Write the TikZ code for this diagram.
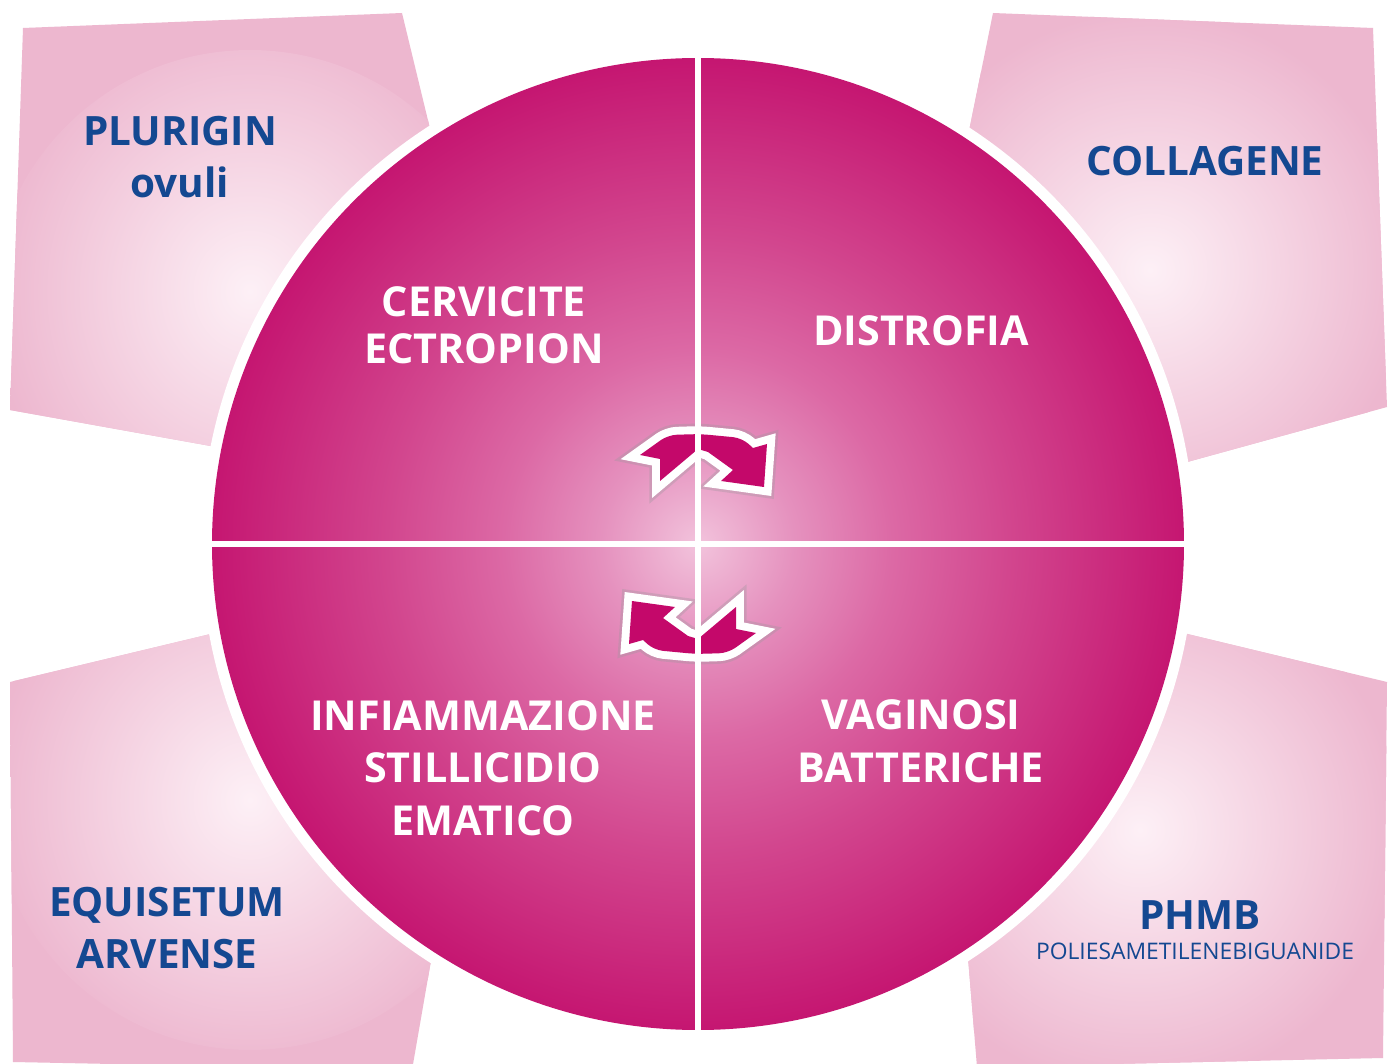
\documentclass[tikz,border=0pt]{standalone}
\usepackage{fontspec}
\setmainfont{Open Sans}
\usepackage{tikz}
\usetikzlibrary{calc}
\definecolor{boxpink}{RGB}{237, 183, 207}
\definecolor{boxlight}{RGB}{253, 240, 246}
\definecolor{discdark}{RGB}{197, 22, 113}
\definecolor{discdeep}{RGB}{210, 70, 142}
\definecolor{discmid}{RGB}{220, 105, 165}
\definecolor{discsoft}{RGB}{229, 145, 190}
\definecolor{disclight}{RGB}{242, 195, 220}
\definecolor{arrowmag}{RGB}{196, 8, 106}
\definecolor{glowgray}{RGB}{160, 150, 158}
\definecolor{remedyblue}{RGB}{20, 72, 145}
\pgfdeclareradialshading{discshade}{\pgfpoint{0bp}{0bp}}{color(0bp)=(disclight); color(5bp)=(discsoft); color(10bp)=(discmid); color(16bp)=(discdeep); color(25bp)=(discdark); color(50bp)=(discdark)}

\begin{document}
\begin{tikzpicture}[x=0.02cm, y=-0.02cm,
    cornerbox/.style={fill=boxpink, path picture={
        \shade[inner color=boxlight, outer color=boxpink] (#1) circle (260);}},
    quadtext/.style={text=white, font=\fontsize{23.5}{30}\selectfont\bfseries,
                     align=center, inner sep=0pt},
    remedy/.style={text=remedyblue, font=\fontsize{23}{30}\selectfont\bfseries,
                   align=center, inner sep=0pt},
    crossline/.style={draw=white, line width=3.5pt},
    arrowpiece/.style={fill=arrowmag,
        preaction={draw=glowgray, line width=12pt, opacity=0.35},
        preaction={draw=white, fill=white, line width=9pt}},
    cyclearrow/.pic={
        \path[arrowpiece] (-58,-89) [rounded corners=5pt] -- (-30,-109) -- (2,-110)
            -- (44,-106) [sharp corners] -- (55,-96) -- (69,-100) -- (66,-57)
            -- (23,-63) -- (35,-74) -- (10,-92) -- (0,-95) -- (-38,-63)
            -- (-38,-85) -- cycle;
    }
]
    \useasboundingbox (0,0) rectangle (1394,1064);
    \fill[white] (0,0) rectangle (1394,1064);

    % corner panels
    \fill[cornerbox={250,310}] (23,28) -- (402,13) -- (440,170) -- (300,462) -- (10,410) -- cycle;
    \fill[cornerbox={1150,270}] (993,13) -- (1373,28) -- (1387,407) -- (1100,486) -- (955,200) -- cycle;
    \fill[cornerbox={250,790}] (10,682) -- (290,615) -- (445,880) -- (412,1070) -- (13,1062) -- cycle;
    \fill[cornerbox={1140,830}] (1387,682) -- (1383,1058) -- (977,1067) -- (960,860) -- (1100,613) -- cycle;

    % disc
    \fill[white] (698,544) circle (497);
    \shade[shading=discshade] (698,544) circle (486);

    \pic at (698,544) {cyclearrow};
    \pic[rotate=180] at (698,544) {cyclearrow};

    \draw[crossline] (698,50) -- (698,1038);
    \draw[crossline] (204,544) -- (1192,544);

    % quadrant labels
    \node[quadtext] (cervicite) at (484,325) {CERVICITE\\[-3.5pt]ECTROPION};
    \node[quadtext] (distrofia) at (921,331) {DISTROFIA};
    \node[quadtext] (infiamm) at (483,768) {INFIAMMAZIONE\\STILLICIDIO\\EMATICO};
    \node[quadtext] (vaginosi) at (921,741) {VAGINOSI\\BATTERICHE};

    % remedies
    \node[remedy] (plurigin) at (180,157) {PLURIGIN\\ovuli};
    \node[remedy] (collagene) at (1205,161) {COLLAGENE};
    \node[remedy] (equisetum) at (167,928) {EQUISETUM\\ARVENSE};
    \node[remedy] (phmb) at (1200,915) {PHMB};
    \node[text=remedyblue, font=\fontsize{13}{15}\selectfont, inner sep=0pt] (phmbname) at (1195,951) {POLIESAMETILENEBIGUANIDE};
\end{tikzpicture}
\end{document}
